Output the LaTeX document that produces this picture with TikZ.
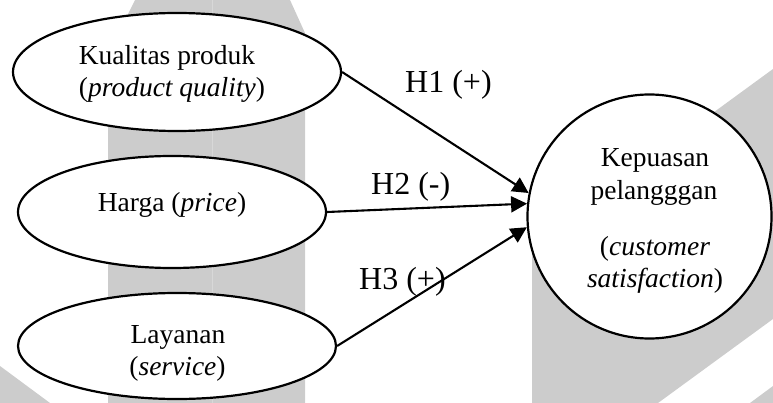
\documentclass[tikz,border=0pt]{standalone}
\usepackage{fontspec}
\setmainfont{Liberation Serif}
\usetikzlibrary{shapes.geometric,arrows.meta}

\definecolor{wmgray}{RGB}{204,204,204}
\definecolor{wmseam}{RGB}{216,216,216}

\tikzset{
  construct/.style={draw=black, fill=white, line width=2.2pt, shape=ellipse, inner sep=0pt},
  outcome/.style={draw=black, fill=white, line width=2.2pt, shape=circle, inner sep=0pt, minimum size=244pt},
  txt/.style={inner sep=0pt, anchor=base, font=\fontsize{27.5}{33}\selectfont},
  hyp/.style={inner sep=0pt, anchor=base west, font=\fontsize{32}{38}\selectfont},
  path/.style={draw=black, line width=2.1pt, -{Triangle[length=16pt,width=16pt]}},
}

\begin{document}
\begin{tikzpicture}[x=1pt, y=-1pt]
  \useasboundingbox (0,0) rectangle (773,403);

  % background emblem
  \fill[wmgray] (135,0) -- (290,0) -- (305,33) -- (305,403) -- (108,403) -- (108,54) -- cycle;
  \draw[wmseam, line width=0.7pt] (212,0) -- (212,403);
  \fill[wmgray] (0,366) -- (50,403) -- (0,403) -- cycle;
  \fill[wmgray] (532,245) -- (773,69) -- (773,319) -- (658,403) -- (532,403) -- cycle;
  \fill[wmgray] (750,403) -- (773,386) -- (773,403) -- cycle;

  % constructs
  \node[construct, minimum width=328pt, minimum height=118pt] (e1) at (177,72) {};
  \node[construct, minimum width=308pt, minimum height=112pt] (e2) at (172,212) {};
  \node[construct, minimum width=318pt, minimum height=106pt] (e3) at (177,346) {};
  \node[outcome] (c) at (649.5,216.5) {};

  % labels inside the constructs
  \node[txt] (e1a) at (167,65) {Kualitas produk};
  \node[txt] (e1b) at (172,97) {(\textit{product quality})};
  \node[txt] (e2a) at (172,212) {Harga (\textit{price})};
  \node[txt] (e3a) at (178,343) {Layanan};
  \node[txt] (e3b) at (177.5,375) {(\textit{service})};
  \node[txt] (ca) at (655,167) {Kepuasan};
  \node[txt] (cb) at (654,200) {pelangggan};
  \node[txt] (cc) at (655,255) {(\textit{customer}};
  \node[txt] (cd) at (655,287) {\textit{satisfaction})};

  % hypothesised paths
  \draw[path] (e1.east) -- (c.169);
  \draw[path] (e2.east) -- (c.174.2);
  \draw[path] (e3.east) -- (c.185);

  \node[hyp] (h1) at (405,93) {H1 (+)};
  \node[hyp] (h2) at (371,195) {H2 (-)};
  \node[hyp] (h3) at (359,289) {H3 (+)};
\end{tikzpicture}
\end{document}
